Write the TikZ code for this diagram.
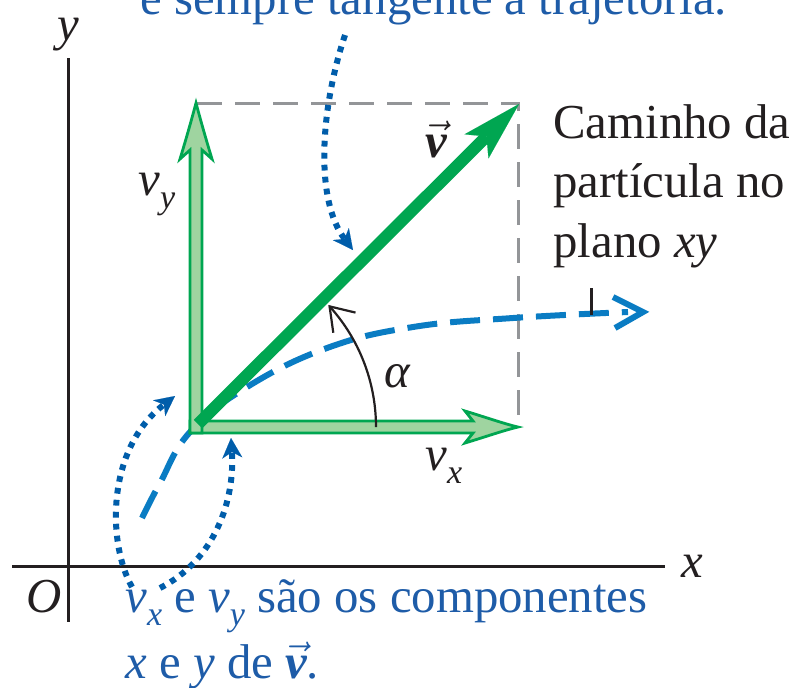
\documentclass[tikz,border=0pt]{standalone}
\usepackage{fontspec}
\setmainfont{Liberation Serif}
\usetikzlibrary{arrows.meta}
\definecolor{vgreen}{HTML}{00A651}
\definecolor{lgreen}{HTML}{9FD4A0}
\definecolor{trajblue}{HTML}{0A7CC3}
\definecolor{dotblue}{HTML}{005DAA}
\definecolor{txtblue}{HTML}{1E5CA8}
\definecolor{dgray}{HTML}{939598}
\definecolor{ink}{HTML}{231F20}
\newcommand{\bigsz}{\fontsize{24.4}{30}\selectfont}
\newcommand{\ssub}[1]{\raisebox{-0.28em}{\fontsize{17}{17}\selectfont\itshape #1}}
\newcommand{\vvec}{\ensuremath{\vec{\mbox{\bfseries\itshape v}}}}
\begin{document}
\begin{tikzpicture}[x=0.5pt,y=-0.5pt,
  axis/.style={draw=ink, line width=1.5pt},
  guide/.style={draw=dgray, line width=1.5pt, dash pattern=on 12.5pt off 6.5pt},
  comp/.style={fill=lgreen, draw=vgreen, line width=1.4pt, line join=miter},
  vel/.style={draw=vgreen, line width=6pt, -{Stealth[length=30pt,width=17pt,inset=7pt,line width=0.01pt]}},
  traj/.style={draw=trajblue, line width=3pt, dash pattern=on 15pt off 6.5pt},
  trajhead/.style={draw=trajblue, line width=3pt, line join=miter},
  callout/.style={draw=dotblue, line width=3pt, dash pattern=on 2.9pt off 3.1pt, -{Stealth[length=10pt,width=10pt,inset=3pt,line width=0.01pt]}},
  anglearc/.style={draw=ink, line width=1.1pt, -{Straight Barb[length=11pt,width=15pt,line width=1.1pt]}},
  lbl/.style={font=\bigsz, text=ink, inner sep=0pt},
  bluetxt/.style={font=\bigsz, text=txtblue, inner sep=0pt}
]
\useasboundingbox (0,0) rectangle (795,687);
\clip (0,0) rectangle (795,687);

% key points
\coordinate (yTop) at (68,58);
\coordinate (yBot) at (68,622);
\coordinate (xL) at (12,566);
\coordinate (xR) at (665,566);
\coordinate (org) at (198,424);
\coordinate (vtip) at (519,104);
\coordinate (boxTL) at (197,103);
\coordinate (boxTR) at (518,103);
\coordinate (boxBR) at (518,425);

% axes
\draw[axis] (yTop) -- (yBot);
\draw[axis] (xL) -- (xR);
\node[lbl, anchor=base] (ylab) at (68,40) {\itshape y};
\node[lbl, anchor=base] (xlab) at (692,577) {\itshape x};
\node[lbl, anchor=base] (olab) at (44,612) {\itshape O};

% dashed guide
\draw[guide] (boxTL) -- (boxTR) -- (boxBR);

% trajectory
\draw[traj] plot[smooth, tension=0.7] coordinates {(142,518) (160,483) (190,432) (247,387) (327,348) (413,327) (513,318) (628,312)};
\coordinate (trtip) at (643,312);
\draw[trajhead] (613,297) -- (trtip) -- (615,328);

% components
\draw[comp] (190,421) -- (473,421) -- (465,411) .. controls (488,418) and (505,424) .. (518,427)
  .. controls (505,430) and (488,436) .. (465,443) -- (473,433) -- (190,433) -- cycle;
\draw[comp] (190,433) -- (190,150) -- (180,159) .. controls (187,136) and (192,118) .. (196,103)
  .. controls (200,118) and (205,136) .. (212,159) -- (202,150) -- (202,433) -- cycle;

% velocity
\draw[vel] (org) -- (vtip);

% angle
\draw[anglearc] plot[smooth, domain=0:42.7, samples=30] ({196+180*cos(\x)},{427-180*sin(\x)});
\node[lbl, anchor=base] (alab) at (397,387) {\itshape α};

% labels
\node[lbl, anchor=base] (vlab) at (436,157) {\vvec};
\node[lbl, anchor=base west] (vylab) at (138,195) {\itshape v\ssub{y}};
\node[lbl, anchor=base west] (vxlab) at (425,470) {\itshape v\ssub{x}};

\node[lbl, anchor=base west] (cam1) at (553,138) {Caminho da};
\node[lbl, anchor=base west] (cam2) at (553,197) {partícula no};
\node[lbl, anchor=base west] (cam3) at (553,257) {plano \textit{xy}};
\draw[draw=ink, line width=1.5pt] (591,288) -- (591,315);

% callouts
\draw[callout] (345,35) .. controls (320,110) and (315,200) .. (353,250);
\draw[callout] (132,587) .. controls (108,545) and (105,450) .. (175,396);
\draw[callout] (160,588) .. controls (215,560) and (235,500) .. (231,438);

% blue texts
\node[bluetxt, anchor=base west] (toptxt) at (140,14) {é sempre tangente à trajetória.};
\node[bluetxt, anchor=base west] (bot1) at (125,612) {\itshape v\ssub{x}\upshape{} e \itshape v\ssub{y}\upshape{} são os componentes};
\node[bluetxt, anchor=base west] (bot2) at (125,678) {\textit{x} e \textit{y} de \vvec.};
\end{tikzpicture}
\end{document}
